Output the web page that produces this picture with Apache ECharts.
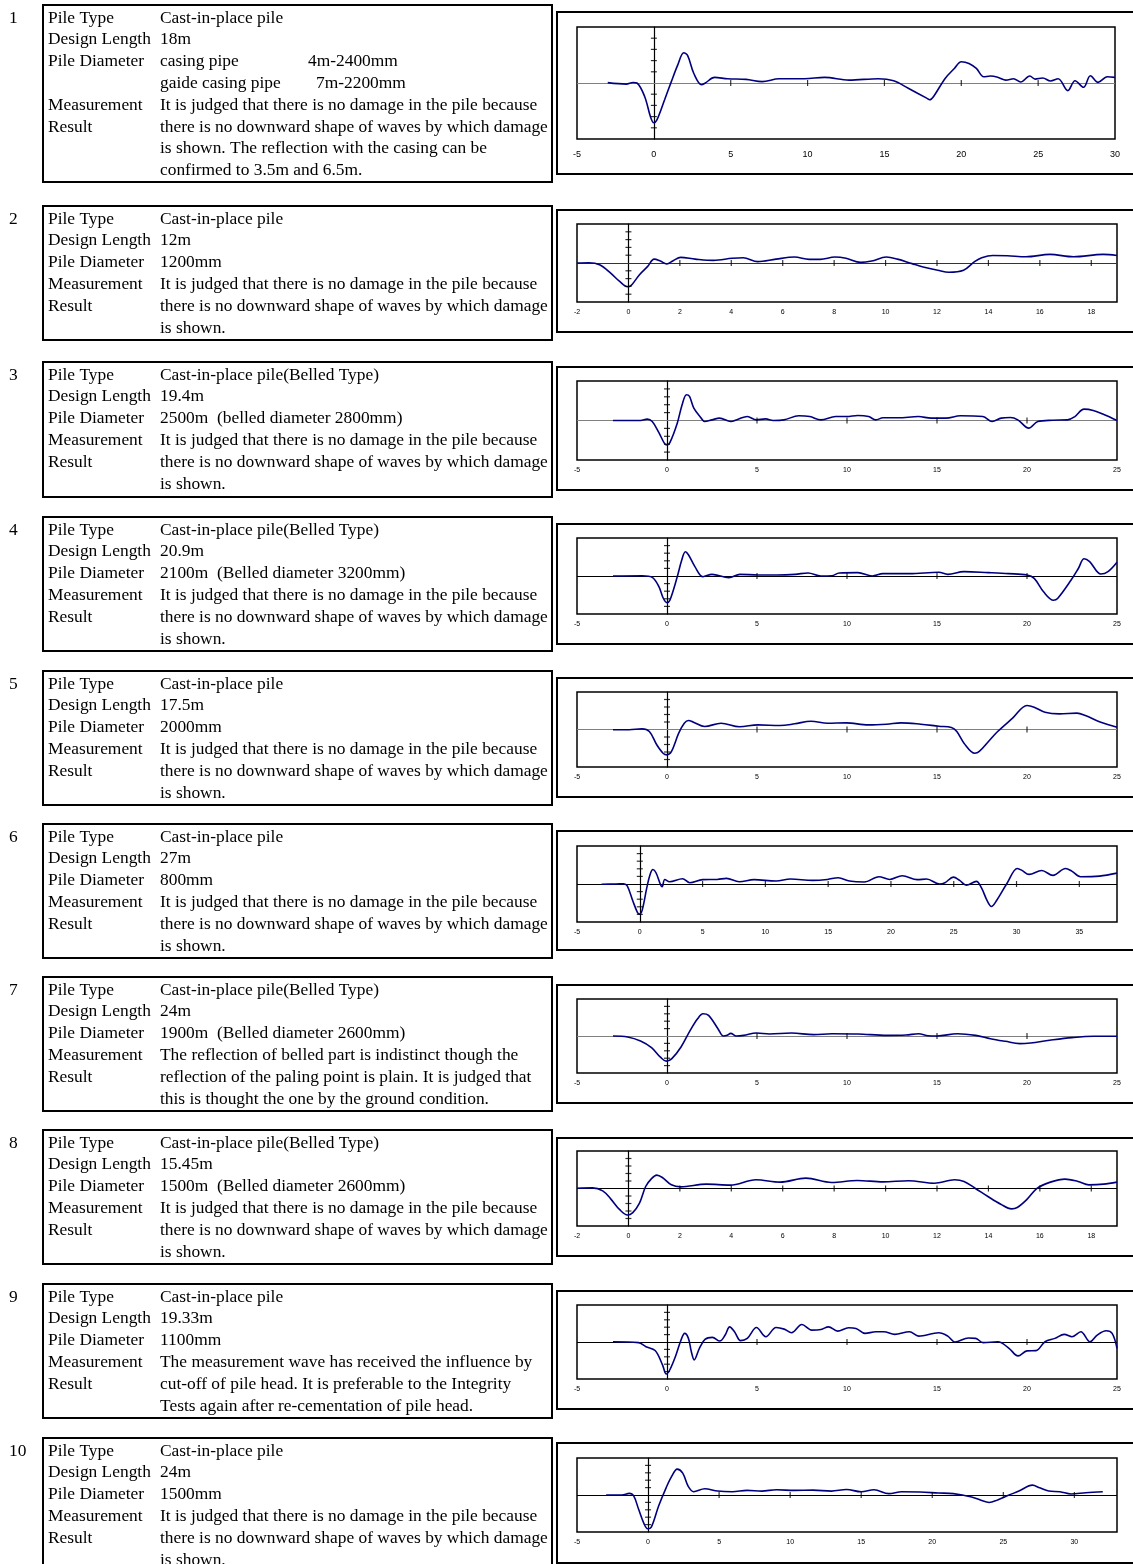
<!DOCTYPE html>
<html>
<head>
<meta charset="utf-8">
<title>Pile Integrity Test Results</title>
<script src="https://cdn.jsdelivr.net/npm/echarts/dist/echarts.min.js"></script>
<style>
  html, body { margin: 0; padding: 0; background: #fff; }
  #c { width: 1133px; height: 1564px; }
</style>
</head>
<body>
<div id="c"></div>
<script>
// ---- Pile records -------------------------------------------------------
const pileNumbers = ['1', '2', '3', '4', '5', '6', '7', '8', '9', '10'];
const fieldNames = ['Pile Type', 'Design Length', 'Pile Diameter', 'Measurement', 'Result'];

const pileTypes = [
  'Cast-in-place pile', 'Cast-in-place pile', 'Cast-in-place pile(Belled Type)',
  'Cast-in-place pile(Belled Type)', 'Cast-in-place pile', 'Cast-in-place pile',
  'Cast-in-place pile(Belled Type)', 'Cast-in-place pile(Belled Type)',
  'Cast-in-place pile', 'Cast-in-place pile'
];
const designLengths = ['18m', '12m', '19.4m', '20.9m', '17.5m', '27m', '24m', '15.45m', '19.33m', '24m'];

// Tab separates the two columns of the casing entry
const pileDiameters = [
  ['casing pipe\t4m-2400mm', 'gaide casing pipe\t7m-2200mm'],
  ['1200mm'],
  ['2500m  (belled diameter 2800mm)'],
  ['2100m  (Belled diameter 3200mm)'],
  ['2000mm'],
  ['800mm'],
  ['1900m  (Belled diameter 2600mm)'],
  ['1500m  (Belled diameter 2600mm)'],
  ['1100mm'],
  ['1500mm']
];

const noDamageText = [
  'It is judged that there is no damage in the pile because',
  'there is no downward shape of waves by which damage',
  'is shown.'
];
const measurementResults = [
  ['It is judged that there is no damage in the pile because',
   'there is no downward shape of waves by which damage',
   'is shown. The reflection with the casing can be',
   'confirmed to 3.5m and 6.5m.'],
  noDamageText, noDamageText, noDamageText, noDamageText, noDamageText,
  ['The reflection of belled part is indistinct though the',
   'reflection of the paling point is plain. It is judged that',
   'this is thought the one by the ground condition.'],
  noDamageText,
  ['The measurement wave has received the influence by',
   'cut-off of pile head. It is preferable to the Integrity',
   'Tests again after re-cementation of pile head.'],
  noDamageText
];

// ---- Reflection waves: [depth (m), amplitude] ---------------------------
const pile1Wave = [[-3.0,0.03],[-1.8,-0.1],[-1.35,0.05],[-1.1,0],[-0.6,-1.2],[-0.2,-3.1],[0,-3.55],[0.2,-3.3],[0.7,-1.5],[1.13,0.1],[1.55,1.6],[1.95,2.7],[2.2,2.45],[2.6,0.85],[3.1,-0.15],[3.35,0],[3.95,0.5],[4.8,0.38],[6.0,0.32],[7.05,0.12],[8.15,0.38],[9.8,0.38],[11.1,0.5],[12.7,0.26],[14.6,0.38],[15.6,0.2],[16.55,-0.47],[17.75,-1.35],[17.95,-1.5],[18.2,-1.2],[18.95,0.41],[19.55,1.3],[20.0,1.9],[20.5,1.75],[20.98,1.3],[21.46,0.56],[21.9,0.62],[22.4,0.5],[22.9,0.26],[23.4,0.38],[23.86,0.09],[24.46,0.62],[24.8,0.35],[25.3,0.44],[25.8,0.18],[26.3,0.38],[26.93,-0.68],[27.4,0.2],[27.95,-0.38],[28.4,0.65],[28.9,0.06],[29.5,0.56],[30.0,0.5]];
const pile2Wave = [[-2,0],[-1.54,0.04],[-1.1,-0.25],[-0.69,-1.3],[-0.33,-2.4],[-0.04,-3.05],[0.1,-2.9],[0.43,-1.5],[0.74,-0.47],[1.0,0.5],[1.24,0.25],[1.49,-0.13],[1.74,0.3],[2.03,0.72],[2.6,0.5],[3.31,0.34],[4.03,0.6],[4.46,0.68],[5.03,0.17],[5.74,0.5],[6.46,0.76],[7.03,0.47],[7.46,0.47],[8.03,0.76],[8.46,0.6],[9.03,0.08],[9.46,0.25],[10.03,0.76],[10.46,0.5],[11.03,-0.08],[11.46,-0.5],[12.03,-0.93],[12.46,-1.19],[13.03,-0.93],[13.46,0.17],[13.74,0.68],[14.17,0.97],[14.74,0.93],[15.46,0.8],[16.39,1.1],[17.31,0.8],[18.46,1.1],[19,0.97]];
const pile3Wave = [[-3.0,0],[-1.47,0],[-1.1,0.17],[-0.82,-0.13],[-0.45,-1.53],[-0.14,-2.9],[0,-3.1],[0.16,-2.8],[0.57,-0.34],[0.84,2.0],[1.08,3.26],[1.25,3.05],[1.49,1.57],[1.9,0.3],[2.1,-0.13],[2.5,0.08],[2.92,0.3],[3.54,-0.13],[3.95,0.17],[4.46,0.5],[4.97,0.08],[5.48,0.2],[5.9,0],[6.5,0.08],[7.32,0.6],[7.93,0.5],[8.55,0.08],[9.37,0.5],[9.98,0.5],[10.6,0.63],[11.2,0.5],[11.6,0.08],[12.0,0.34],[12.84,0.34],[13.97,0.5],[14.68,0.3],[15.5,0.3],[16.3,0.6],[17.55,0.5],[18.06,-0.13],[18.57,0.3],[19.08,0.38],[19.49,0.08],[20.1,-0.97],[20.6,-0.13],[21.43,0.04],[22.25,0.08],[22.66,0.5],[23.17,1.44],[23.68,1.27],[24.3,0.72],[25,0]];
const pile4Wave = [[-3,0],[-1.37,0.04],[-0.82,-0.18],[-0.45,-1.4],[-0.2,-2.96],[0,-3.5],[0.16,-3.2],[0.57,-0.1],[0.82,2.1],[1.02,3.2],[1.19,2.8],[1.55,1.24],[2.0,-0.09],[2.5,0.22],[3.44,-0.22],[4.05,0.22],[5.07,0.13],[6.1,0.13],[7.12,0.22],[7.84,0.4],[8.55,0],[9.16,0.04],[9.57,0.4],[10.6,0.44],[11.4,0],[12.0,0.31],[13.46,0.31],[15.1,0.49],[15.6,0.22],[16.5,0.57],[17.85,0.44],[18.98,0.31],[20.0,0.13],[20.4,-0.31],[20.92,-2.08],[21.47,-3.19],[21.7,-2.96],[22.45,-0.53],[22.86,1.02],[23.17,2.26],[23.48,1.9],[24.1,0.27],[24.5,0.58],[25,1.81]];
const pile5Wave = [[-3,-0.04],[-2.1,-0.04],[-1.39,0.09],[-0.98,-0.27],[-0.57,-2.04],[-0.22,-3.16],[0,-3.38],[0.25,-2.93],[0.65,-0.49],[0.96,0.84],[1.2,1.2],[1.47,0.98],[2.09,0.4],[3.0,0.84],[4.03,0.36],[5.05,0.62],[6.28,0.53],[7.1,0.76],[8.0,1.1],[8.93,0.84],[9.95,0.89],[11.18,0.62],[12.2,0.71],[13.0,0.89],[14.1,0.71],[15.1,0.44],[15.8,0.27],[16.1,-0.27],[16.5,-1.82],[17.1,-3.16],[17.35,-2.93],[17.86,-1.6],[18.37,-0.27],[19.2,1.51],[20.0,3.2],[20.4,2.98],[21.0,2.3],[21.8,2.09],[22.77,2.18],[23.28,1.82],[24.1,0.98],[25,0.31]];
const pile6Wave = [[-3.04,-0.04],[-1.87,0],[-1.29,0.04],[-1.0,-0.26],[-0.56,-2.2],[-0.2,-3.7],[-0.03,-3.96],[0.18,-3.5],[0.56,-0.48],[0.82,1.26],[1.05,1.9],[1.29,1.48],[1.64,-0.04],[1.78,-0.35],[1.99,0.6],[2.37,0.3],[3.4,0.7],[3.98,0.17],[5.0,0.57],[6.17,0.6],[6.9,0.74],[7.92,0.3],[9.1,0.57],[10.85,0.39],[12.0,0.65],[13.77,0.48],[14.94,0.6],[15.8,0.83],[16.7,0.39],[17.87,0.26],[19.04,0.96],[19.9,0.6],[20.9,1.09],[22.1,0.57],[22.84,0.65],[23.86,0],[24.3,0.17],[24.97,0.91],[25.47,0.48],[26.0,-0.17],[26.8,0.35],[27.2,-0.48],[27.66,-2.2],[28.0,-2.96],[28.4,-2.2],[29.27,0.17],[30.06,2.04],[30.4,1.83],[31.0,1.26],[32.0,1.78],[32.9,1.13],[33.9,2.04],[34.4,1.7],[35.1,0.96],[36.6,1.04],[38.0,1.43]];
const pile7Wave = [[-3,0],[-2.19,-0.13],[-1.47,-0.67],[-0.86,-1.57],[-0.35,-2.9],[-0.04,-3.4],[0.27,-3.05],[0.78,-1.48],[1.29,0.76],[1.7,2.33],[2.0,3.0],[2.31,2.78],[2.83,0.99],[3.13,0],[3.34,0.09],[3.54,0.36],[3.85,0],[4.26,0.09],[4.97,0.4],[5.69,0.27],[6.92,0.4],[8.15,0.18],[9.17,0.31],[10.6,0.27],[12.24,0.09],[13.27,0.13],[13.98,0.31],[14.5,0.04],[15.0,0],[16.13,0.31],[17.15,0.09],[17.97,-0.36],[18.8,-0.72],[19.6,-1.03],[20.2,-0.94],[21.25,-0.58],[22.5,-0.22],[23.7,-0.04],[25,-0.04]];
const pile8Wave = [[-2,0.04],[-1.4,0.09],[-1.0,-0.31],[-0.69,-1.38],[-0.33,-2.86],[-0.04,-3.53],[0.17,-3.21],[0.43,-1.96],[0.67,0.27],[0.89,1.29],[1.1,1.79],[1.32,1.47],[1.67,0.49],[2.03,0.22],[3.03,0.58],[3.96,0.45],[4.96,1.16],[5.9,0.85],[6.9,1.38],[7.9,0.8],[8.9,1.07],[9.9,0.89],[10.9,1.03],[11.9,0.71],[12.69,1.16],[13.05,0.94],[13.48,0.04],[13.98,-1.07],[14.48,-2.1],[14.9,-2.72],[15.12,-2.54],[15.48,-1.52],[15.9,0.04],[16.41,0.85],[16.98,1.25],[17.48,0.94],[17.91,0.49],[18.48,0.58],[19.0,0.85]];
const pile9Wave = [[-3,0.04],[-1.58,-0.09],[-1.17,-0.63],[-0.66,-1.16],[-0.25,-3.08],[-0.04,-4.33],[0.16,-3.75],[0.47,-1.96],[0.78,0.27],[0.98,1.16],[1.19,0.49],[1.35,-1.29],[1.51,-2.41],[1.8,-0.85],[2.11,0.36],[2.52,0.63],[2.93,0.13],[3.23,0.94],[3.48,2.05],[3.75,1.38],[4.09,0.18],[4.46,0.49],[4.97,1.96],[5.49,0.71],[6.06,1.96],[6.51,1.74],[6.92,1.25],[7.49,2.37],[8.04,1.61],[8.56,1.7],[8.97,2.05],[9.48,1.47],[10.09,1.92],[10.5,1.83],[11.0,1.16],[11.6,1.38],[12.04,1.38],[12.65,1.03],[13.47,1.38],[13.98,0.8],[15.1,1.25],[15.6,0.8],[16.0,0],[16.75,0.54],[17.15,0.49],[17.56,-0.09],[18.38,0.04],[19.0,-0.85],[19.5,-1.88],[20.0,-1.2],[20.5,-1.16],[21.0,0.04],[21.55,0.49],[22.07,1.03],[22.5,0.71],[22.99,1.38],[23.5,0.04],[23.9,0.94],[24.4,1.52],[24.73,1.16],[25.0,-0.85]];
const pile10Wave = [[-2.95,0],[-1.84,0],[-1.32,0.22],[-1.01,-0.13],[-0.67,-1.9],[-0.28,-3.9],[-0.03,-4.56],[0.23,-4.34],[0.75,-1.46],[1.27,0.97],[1.66,2.52],[2.05,3.5],[2.44,2.96],[2.82,1.19],[3.21,0.44],[3.99,0.84],[4.9,0.53],[5.93,0.44],[6.97,0.62],[8.0,0.53],[9.04,0.71],[10.3,0.62],[11.6,0.66],[12.9,0.53],[13.96,0.75],[15.0,0.44],[15.9,0.71],[16.94,0.18],[17.85,0.44],[19.14,0.4],[20.44,0.27],[21.48,0.18],[22.77,-0.27],[23.42,-0.71],[24.0,-1.02],[24.6,-0.66],[25.36,-0.04],[26.1,0.53],[27.05,1.33],[27.56,0.97],[28.2,0.53],[28.99,0.44],[29.77,0.13],[30.8,0.31],[32.0,0.44]];

// ---- Depth axes ----------------------------------------------------------
const depthLabels30 = [-5, 0, 5, 10, 15, 20, 25, 30];
const depthLabels18 = [-2, 0, 2, 4, 6, 8, 10, 12, 14, 16, 18];
const depthLabels25 = [-5, 0, 5, 10, 15, 20, 25];
const depthLabels35 = [-5, 0, 5, 10, 15, 20, 25, 30, 35];
const depthMin = [-5, -2, -5, -5, -5, -5, -5, -2, -5, -5];
const depthMax = [30, 19, 25, 25, 25, 38, 25, 19, 25, 33];
const depthStep = [5, 2, 5, 5, 5, 5, 5, 2, 5, 5];
const amplitudeMin = -5, amplitudeMax = 5, amplitudeStep = 1;
const amplitudeTicks = [-4, -3, -2, -1, 1, 2, 3, 4];

const waves = [pile1Wave, pile2Wave, pile3Wave, pile4Wave, pile5Wave, pile6Wave, pile7Wave, pile8Wave, pile9Wave, pile10Wave];
const depthLabels = [depthLabels30, depthLabels18, depthLabels25, depthLabels25, depthLabels25,
                     depthLabels35, depthLabels25, depthLabels18, depthLabels25, depthLabels30];

// ---- Page layout (px) -----------------------------------------------------
const boxTops    = [5, 206, 362, 517, 671, 824, 977, 1130, 1284, 1438];
const boxHeights = [177, 134, 135, 134, 134, 134, 134, 134, 134, 134];
const frameTops    = [12, 210, 367, 524, 678, 831, 985, 1138, 1291, 1443];
const frameBottoms = [174, 332, 490, 644, 797, 950, 1103, 1256, 1409, 1563];
const plotTops    = [27, 224, 381, 538, 692, 846, 999, 1151, 1305, 1458];
const plotHeights = [112, 78, 79, 76, 75, 76, 74, 75, 74, 74];
const plotLeft = 577;
const plotWidths = [538, 540, 540, 540, 540, 540, 540, 540, 540, 540];
const zeroLineColors = ['#808080', '#333', '#808080', '#000', '#808080', '#000', '#808080', '#000', '#000', '#000'];
const lineGap = 21.8;
const labelX = 48, valueX = 160, numberX = 9;
const casingColumnX = [308, 316];
const serifFont = '17.4px "Liberation Serif", "Times New Roman", serif';

// ---- Text blocks ----------------------------------------------------------
const graphics = [];
function addText(x, y, text) {
  graphics.push({
    type: 'text', x: x, y: y, silent: true,
    style: { text: text, font: serifFont, fill: '#000', verticalAlign: 'middle', textVerticalAlign: 'middle' }
  });
}

pileNumbers.forEach(function (num, i) {
  const top = boxTops[i];
  const lineY = function (k) { return top + 13 + k * lineGap; };

  graphics.push({
    type: 'rect', silent: true,
    shape: { x: 43, y: top, width: 509, height: boxHeights[i] },
    style: { fill: 'none', stroke: '#000', lineWidth: 2 }
  });
  graphics.push({
    type: 'rect', silent: true,
    shape: { x: 557, y: frameTops[i], width: 600, height: frameBottoms[i] - frameTops[i] },
    style: { fill: 'none', stroke: '#000', lineWidth: 2 }
  });

  addText(numberX, lineY(0), num);
  addText(labelX, lineY(0), fieldNames[0]);
  addText(valueX, lineY(0), pileTypes[i]);
  addText(labelX, lineY(1), fieldNames[1]);
  addText(valueX, lineY(1), designLengths[i]);
  addText(labelX, lineY(2), fieldNames[2]);

  let k = 2;
  pileDiameters[i].forEach(function (entry, j) {
    const parts = entry.split('\t');
    addText(valueX, lineY(k), parts[0]);
    if (parts[1]) addText(casingColumnX[j], lineY(k), parts[1]);
    k++;
  });
  addText(labelX, lineY(k), fieldNames[3]);
  addText(labelX, lineY(k + 1), fieldNames[4]);
  measurementResults[i].forEach(function (line, j) {
    addText(valueX, lineY(k + j), line);
  });
});

// ---- Charts ---------------------------------------------------------------
const grids = [], xAxes = [], yAxes = [], series = [];

waves.forEach(function (wave, i) {
  const labels = depthLabels[i];
  const big = i === 0;

  grids.push({
    left: plotLeft, top: plotTops[i], width: plotWidths[i], height: plotHeights[i],
    show: true, borderColor: '#000', borderWidth: 1.5, backgroundColor: 'transparent'
  });

  xAxes.push({
    gridIndex: i, type: 'value', position: 'bottom',
    min: depthMin[i], max: depthMax[i], interval: depthStep[i],
    axisLine: { show: false, onZero: false },
    axisTick: { show: false },
    splitLine: { show: false },
    axisLabel: {
      fontSize: big ? 9 : 7, color: '#000', margin: big ? 11 : 7,
      fontFamily: '"Liberation Sans", Arial, sans-serif',
      showMinLabel: true, showMaxLabel: true,
      formatter: function (v) { return labels.indexOf(v) >= 0 ? String(v) : ''; }
    }
  });

  yAxes.push({
    gridIndex: i, type: 'value',
    min: amplitudeMin, max: amplitudeMax, interval: amplitudeStep,
    axisLine: { show: true, onZero: true, lineStyle: { color: '#000', width: 1.2 } },
    axisTick: { show: false },
    axisLabel: { show: false },
    splitLine: { show: false }
  });

  series.push({
    type: 'line', xAxisIndex: i, yAxisIndex: i,
    data: wave, showSymbol: false, smooth: 0.35, silent: true,
    lineStyle: { color: '#00007f', width: 1.6 },
    z: 3,
    markLine: {
      silent: true, symbol: ['none', 'none'], label: { show: false },
      lineStyle: { color: zeroLineColors[i], width: 1.2, type: 'solid' },
      emphasis: { disabled: true },
      data: [{ yAxis: 0 }], z: 1
    }
  });

  // cross-style tick marks on the amplitude axis
  series.push({
    type: 'scatter', xAxisIndex: i, yAxisIndex: i, silent: true,
    symbol: 'rect', symbolSize: [6, 1.2],
    itemStyle: { color: '#000' },
    data: amplitudeTicks.map(function (a) { return [0, a]; }),
    z: 4
  });

  // cross-style tick marks along the zero line
  series.push({
    type: 'scatter', xAxisIndex: i, yAxisIndex: i, silent: true,
    symbol: 'rect', symbolSize: [1.2, 6],
    itemStyle: { color: '#000' },
    data: labels.filter(function (d) { return d > 0 && d < depthMax[i]; })
                .map(function (d) { return [d, 0]; }),
    z: 4
  });
});

const chart = echarts.init(document.getElementById('c'), null, { renderer: 'canvas', width: 1133, height: 1564 });
chart.setOption({
  animation: false,
  backgroundColor: '#fff',
  grid: grids,
  xAxis: xAxes,
  yAxis: yAxes,
  series: series,
  graphic: { elements: graphics }
});
</script>
</body>
</html>
